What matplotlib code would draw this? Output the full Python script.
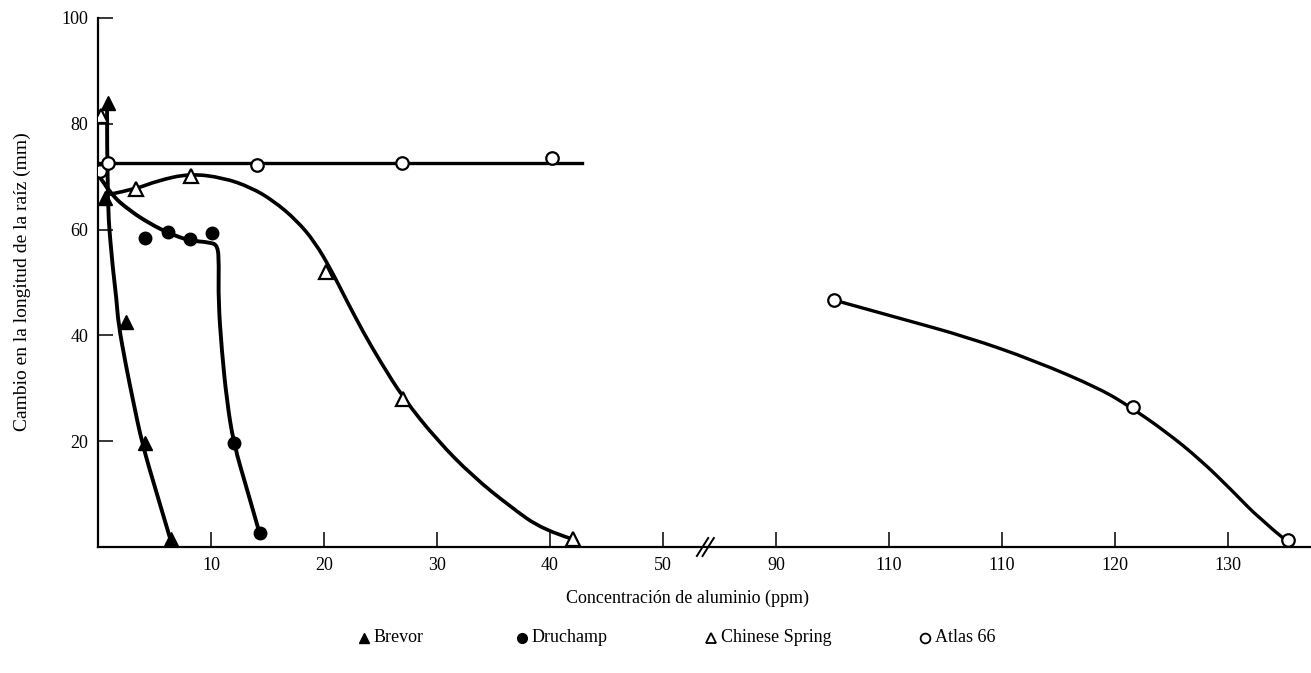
import matplotlib
matplotlib.use("Agg")
import matplotlib.pyplot as plt
from matplotlib.lines import Line2D
from matplotlib.path import Path
from matplotlib.patches import PathPatch

plt.rcParams["font.family"] = ["Liberation Serif", "DejaVu Serif"]

W, H = 1311, 673

# --- data (x in ppm Al, y in mm) ---
# after the axis break the scale is shifted by 30 ppm
BREAK_AT = 55
BREAK_SHIFT = 30

brevor_curve_x = [0.8, 0.8, 1.2, 1.65, 1.8, 2.5, 3.1, 3.9, 5.2, 6.4]
brevor_curve_y = [84, 66, 54.8, 46.6, 42.2, 34.0, 27.7, 19.6, 10.1, 1.5]
brevor_x = [0.9, 0.6, 2.5, 4.2, 6.5]
brevor_y = [84, 66, 42.5, 19.6, 1.5]

druchamp_curve_x = [0, 1.1, 2.8, 4.6, 6.4, 8.1, 9.9, 10.6, 10.7, 10.65, 10.95, 11.4, 12.0, 13.2, 14.3]
druchamp_curve_y = [70.5, 66.7, 63.6, 61.1, 59.2, 57.9, 57.6, 57.0, 53.5, 46.6, 37.2, 27.7, 19.6, 10.8, 2.6]
druchamp_x = [4.2, 6.2, 8.1, 10.1, 12.0, 14.3]
druchamp_y = [58.5, 59.5, 58.2, 59.3, 19.6, 2.6]

spring_curve_x = [1.1, 3.4, 5.2, 8.1, 11.1, 13.5, 15.5, 17.6, 19.2, 20.6, 21.9, 23.5, 25.0,
                  27.0, 30.0, 33.2, 36.5, 39.4, 42.0]
spring_curve_y = [66.7, 67.7, 69.2, 70.6, 69.8, 68.0, 65.5, 61.7, 57.6, 52.5, 47.0, 40.5, 35.0,
                  28.2, 20.2, 13.3, 7.6, 3.2, 1.5]
spring_x = [0.3, 3.4, 8.2, 20.2, 27.0, 42.0]
spring_y = [81.5, 67.7, 70.2, 51.9, 27.9, 1.5]

atlas_line1_x = [0, 42.8]
atlas_line1_y = [72.5, 72.5]
atlas_line2_x = [95.1, 101, 106.9, 112.8, 118.7, 121.4, 124.5, 127.5, 130.3, 132.8, 135.1]
atlas_line2_y = [46.7, 43.2, 39.7, 35.3, 29.9, 26.4, 21.8, 16.6, 10.8, 5.3, 1.3]
atlas_x = [0.2, 0.9, 14.1, 26.9, 40.2, 95.1, 121.6, 135.3]
atlas_y = [71.0, 72.5, 72.3, 72.6, 73.6, 46.7, 26.5, 1.3]

x_tick_values = [10, 20, 30, 40, 50, 90, 100, 110, 120, 130]
x_tick_labels = ["10", "20", "30", "40", "50", "90", "110", "110", "120", "130"]
y_ticks = [20, 40, 60, 80, 100]

legend_names = ["Brevor", "Druchamp", "Chinese Spring", "Atlas 66"]


def to_axis(values):
    return [v - BREAK_SHIFT if v > BREAK_AT else v for v in values]


def smooth_curve(ax, xs, ys, lw):
    # quadratic spline path using the traced vertices as control points
    pts = list(zip(to_axis(xs), ys))
    verts = [pts[0]]
    codes = [Path.MOVETO]
    for i in range(1, len(pts) - 1):
        if i + 1 == len(pts) - 1:
            end = pts[-1]
        else:
            end = ((pts[i][0] + pts[i + 1][0]) / 2, (pts[i][1] + pts[i + 1][1]) / 2)
        verts += [pts[i], end]
        codes += [Path.CURVE3, Path.CURVE3]
    if len(pts) == 2:
        verts.append(pts[1])
        codes.append(Path.LINETO)
    patch = PathPatch(Path(verts, codes), facecolor="none", edgecolor="black",
                      lw=lw, capstyle="round", joinstyle="round", zorder=2)
    ax.add_patch(patch)


fig = plt.figure(figsize=(W / 100, H / 100), dpi=100)
ax = fig.add_axes([98 / W, (H - 547) / H, (W - 98) / W, (547 - 18) / H])

smooth_curve(ax, brevor_curve_x, brevor_curve_y, 2.8)
smooth_curve(ax, druchamp_curve_x, druchamp_curve_y, 2.8)
smooth_curve(ax, spring_curve_x, spring_curve_y, 2.6)
ax.plot(to_axis(atlas_line1_x), atlas_line1_y, color="black", lw=2.4, zorder=2)
smooth_curve(ax, atlas_line2_x, atlas_line2_y, 2.4)

ax.plot(to_axis(spring_x), spring_y, ls="none", marker="^", ms=10, mfc="white",
        mec="black", mew=1.6, zorder=3)
ax.plot(to_axis(atlas_x), atlas_y, ls="none", marker="o", ms=9, mfc="white",
        mec="black", mew=1.6, zorder=3)
ax.plot(to_axis(brevor_x), brevor_y, ls="none", marker="^", ms=10, color="black", zorder=4)
ax.plot(to_axis(druchamp_x), druchamp_y, ls="none", marker="o", ms=9, color="black", zorder=4)

ax.set_xlim(0, (W - 98) / 11.3)
ax.set_ylim(0, 100)

ax.set_xticks(to_axis(x_tick_values))
ax.set_xticklabels(x_tick_labels)
ax.set_yticks(y_ticks)
ax.set_yticklabels([str(v) for v in y_ticks])
ax.tick_params(direction="in", length=11, width=1.1, labelsize=13, pad=7)

for side in ["top", "right"]:
    ax.spines[side].set_visible(False)
for side in ["left", "bottom"]:
    ax.spines[side].set_linewidth(1.6)

# axis break marks "//"
brk = BREAK_AT - 1.5
for dx in (0.0, 0.5):
    ax.plot([brk + dx - 0.5, brk + dx + 0.5], [-1.7, 1.7], color="black", lw=1.4,
            clip_on=False, zorder=5)

fig.text(688 / W, 1 - 598 / H, "Concentración de aluminio (ppm)", ha="center",
         va="center", fontsize=13)
fig.text(22 / W, 1 - 282 / H, "Cambio en la longitud de la raíz (mm)", ha="center",
         va="center", rotation=90, fontsize=14)

# legend row drawn by hand
legend_px = [364, 522, 711, 925]
legend_style = [
    dict(marker="^", color="black", ms=7),
    dict(marker="o", color="black", ms=7),
    dict(marker="^", mfc="white", mec="black", mew=1.3, ms=7),
    dict(marker="o", mfc="white", mec="black", mew=1.3, ms=7),
]
ly = 1 - 638 / H
for px, name, style in zip(legend_px, legend_names, legend_style):
    fig.add_artist(Line2D([px / W], [ly], transform=fig.transFigure, ls="none", **style))
    fig.text((px + 10) / W, ly, name, ha="left", va="center", fontsize=13)

fig.savefig("out.png", dpi=100)
